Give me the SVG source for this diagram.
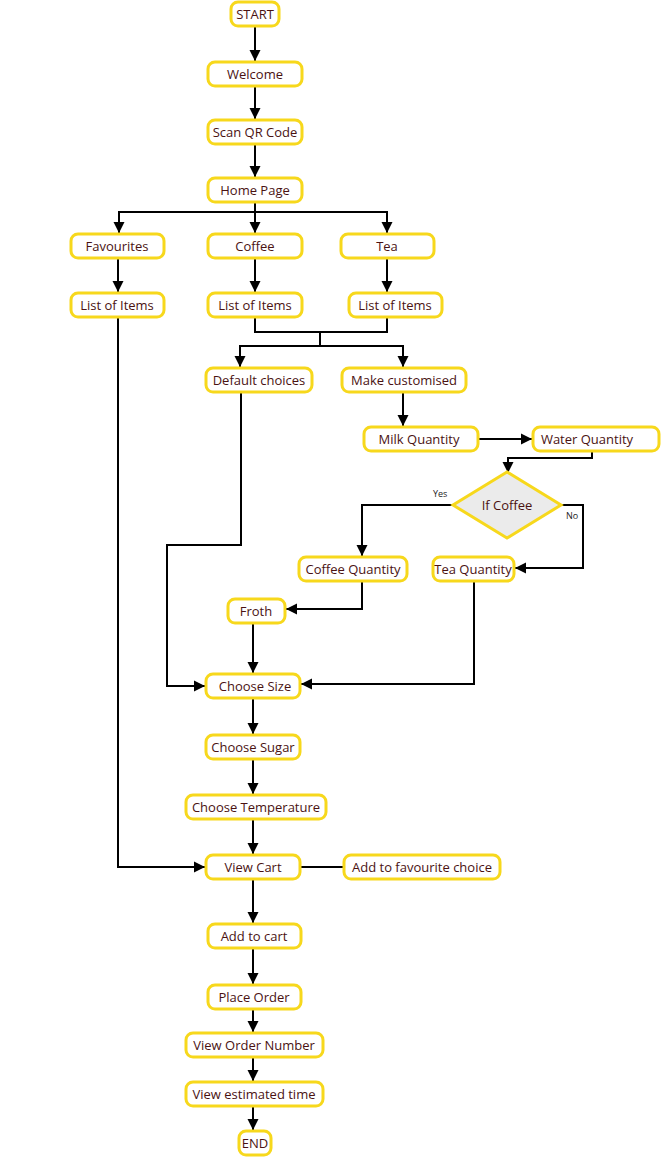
<svg xmlns="http://www.w3.org/2000/svg" width="661" height="1158" viewBox="0 0 661 1158">
<style>
.n rect{fill:#fff;stroke:#f7d81c;stroke-width:3}
.n polygon{fill:#ebebeb;stroke:#f7d81c;stroke-width:3}
.n text{font-family:"Open Sans","Liberation Sans",sans-serif;font-size:13px;font-weight:500;fill:#4a1212;text-anchor:middle;dominant-baseline:central}
.c path{fill:none;stroke:#000;stroke-width:2}
.lbl{font-family:"Open Sans","Liberation Sans",sans-serif;font-size:9px;fill:#222}
</style>
<defs>
<marker id="a" markerUnits="userSpaceOnUse" markerWidth="12" markerHeight="12" refX="11" refY="6" orient="auto">
<path d="M0,0.5 L11,6 L0,11.5 z" fill="#000"/>
</marker>
</defs>
<rect width="661" height="1158" fill="#fff"/>
<g class="c">
<path d="M255,26 V61" marker-end="url(#a)"/>
<path d="M255,86 V119" marker-end="url(#a)"/>
<path d="M255,144 V177" marker-end="url(#a)"/>
<path d="M255,202 V233" marker-end="url(#a)"/>
<path d="M255,212 H119 V233" marker-end="url(#a)"/>
<path d="M255,212 H387 V233" marker-end="url(#a)"/>
<path d="M118,258 V292" marker-end="url(#a)"/>
<path d="M255,258 V292" marker-end="url(#a)"/>
<path d="M387,258 V292" marker-end="url(#a)"/>
<path d="M255,317 V332 H387 V317"/>
<path d="M320,332 V346"/>
<path d="M320,346 H240 V367" marker-end="url(#a)"/>
<path d="M320,346 H403 V367" marker-end="url(#a)"/>
<path d="M403,392 V426" marker-end="url(#a)"/>
<path d="M478,439 H532" marker-end="url(#a)"/>
<path d="M592,451 V458 H508 V473" marker-end="url(#a)"/>
<path d="M453,505 H362 V556" marker-end="url(#a)"/>
<path d="M561,505 H583 V568 H515" marker-end="url(#a)"/>
<path d="M362,581 V609 H286" marker-end="url(#a)"/>
<path d="M253,623 V673" marker-end="url(#a)"/>
<path d="M474,581 V684 H301" marker-end="url(#a)"/>
<path d="M241,392 V545 H167 V686 H205" marker-end="url(#a)"/>
<path d="M253,698 V734" marker-end="url(#a)"/>
<path d="M253,759 V794" marker-end="url(#a)"/>
<path d="M253,819 V854" marker-end="url(#a)"/>
<path d="M118,317 V867 H205" marker-end="url(#a)"/>
<path d="M300,867 H344"/>
<path d="M253,879 V923" marker-end="url(#a)"/>
<path d="M253,948 V984" marker-end="url(#a)"/>
<path d="M253,1009 V1032" marker-end="url(#a)"/>
<path d="M253,1057 V1081" marker-end="url(#a)"/>
<path d="M253,1106 V1130" marker-end="url(#a)"/>
</g>
<text class="lbl" x="433" y="497">Yes</text>
<text class="lbl" x="566" y="519">No</text>
<g id="start" class="n"><rect x="231" y="2" width="48" height="24" rx="7"/><text x="255" y="14">START</text></g>
<g id="welcome" class="n"><rect x="208" y="62" width="94" height="24" rx="7"/><text x="255" y="74">Welcome</text></g>
<g id="scan" class="n"><rect x="208" y="120" width="94" height="24" rx="7"/><text x="255" y="132">Scan QR Code</text></g>
<g id="home" class="n"><rect x="208" y="178" width="94" height="24" rx="7"/><text x="255" y="190">Home Page</text></g>
<g id="favourites" class="n"><rect x="71" y="234" width="93" height="24" rx="7"/><text x="117" y="246">Favourites</text></g>
<g id="coffee" class="n"><rect x="208" y="234" width="94" height="24" rx="7"/><text x="255" y="246">Coffee</text></g>
<g id="tea" class="n"><rect x="341" y="234" width="93" height="24" rx="7"/><text x="387" y="246">Tea</text></g>
<g id="list1" class="n"><rect x="71" y="293" width="93" height="24" rx="7"/><text x="117" y="305">List of Items</text></g>
<g id="list2" class="n"><rect x="208" y="293" width="94" height="24" rx="7"/><text x="255" y="305">List of Items</text></g>
<g id="list3" class="n"><rect x="349" y="293" width="93" height="24" rx="7"/><text x="395" y="305">List of Items</text></g>
<g id="default" class="n"><rect x="206" y="368" width="106" height="24" rx="7"/><text x="259" y="380">Default choices</text></g>
<g id="custom" class="n"><rect x="342" y="368" width="124" height="24" rx="7"/><text x="404" y="380">Make customised</text></g>
<g id="milk" class="n"><rect x="364" y="427" width="114" height="24" rx="7"/><text x="419" y="439">Milk Quantity</text></g>
<g id="water" class="n"><rect x="533" y="427" width="126" height="24" rx="7"/><text x="587" y="439">Water Quantity</text></g>
<g id="ifcoffee" class="n"><polygon points="507,472 561,505 507,538 453,505"/><text x="507" y="505">If Coffee</text></g>
<g id="coffeeqty" class="n"><rect x="299" y="557" width="108" height="24" rx="7"/><text x="353" y="569">Coffee Quantity</text></g>
<g id="teaqty" class="n"><rect x="433" y="557" width="81" height="24" rx="7"/><text x="473" y="569">Tea Quantity</text></g>
<g id="froth" class="n"><rect x="228" y="599" width="57" height="24" rx="7"/><text x="256" y="611">Froth</text></g>
<g id="size" class="n"><rect x="206" y="674" width="94" height="24" rx="7"/><text x="255" y="686">Choose Size</text></g>
<g id="sugar" class="n"><rect x="206" y="735" width="94" height="24" rx="7"/><text x="253" y="747">Choose Sugar</text></g>
<g id="temp" class="n"><rect x="186" y="795" width="140" height="24" rx="7"/><text x="256" y="807">Choose Temperature</text></g>
<g id="cart" class="n"><rect x="206" y="855" width="94" height="24" rx="7"/><text x="253" y="867">View Cart</text></g>
<g id="fav" class="n"><rect x="344" y="855" width="156" height="24" rx="7"/><text x="422" y="867">Add to favourite choice</text></g>
<g id="addcart" class="n"><rect x="208" y="924" width="93" height="24" rx="7"/><text x="254" y="936">Add to cart</text></g>
<g id="place" class="n"><rect x="208" y="985" width="93" height="24" rx="7"/><text x="254" y="997">Place Order</text></g>
<g id="vonum" class="n"><rect x="186" y="1033" width="137" height="24" rx="7"/><text x="254" y="1045">View Order Number</text></g>
<g id="vetime" class="n"><rect x="186" y="1082" width="137" height="24" rx="7"/><text x="254" y="1094">View estimated time</text></g>
<g id="end" class="n"><rect x="239" y="1131" width="32" height="24" rx="7"/><text x="255" y="1143">END</text></g>
</svg>
